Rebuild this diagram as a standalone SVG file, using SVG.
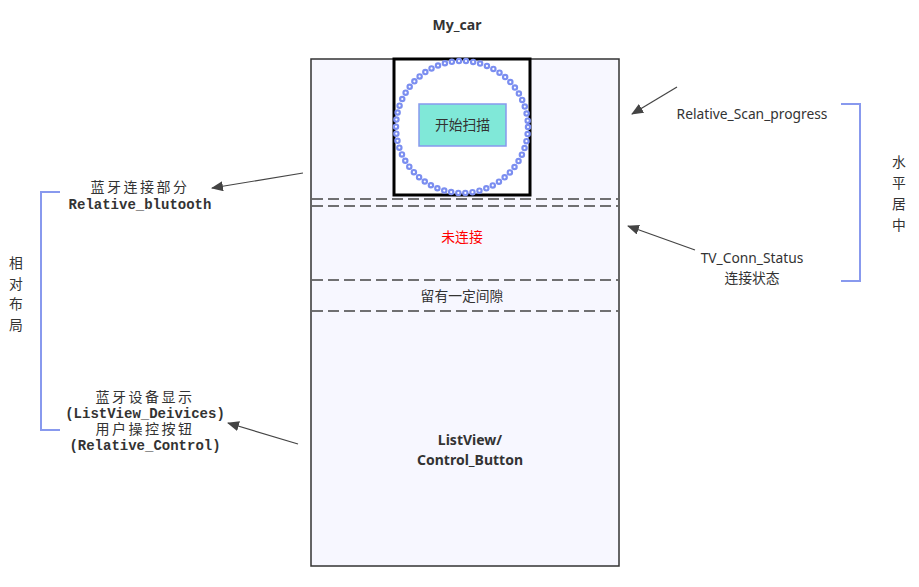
<svg xmlns="http://www.w3.org/2000/svg" width="919" height="587" viewBox="0 0 919 587">
<style>
.t{font-family:"Noto Sans","Open Sans","Noto Sans CJK SC",sans-serif;font-size:13.8px;fill:#333;text-anchor:middle}
.b{font-weight:bold;font-size:14px}
.m{font-family:"Liberation Mono","Noto Sans CJK SC",monospace;font-size:14px;font-weight:bold;fill:#333;text-anchor:middle}
.c{font-weight:normal;letter-spacing:2.5px}
.dash{stroke:#444;stroke-width:1.3;stroke-dasharray:11 5;fill:none}
.br{stroke:#8899ee;stroke-width:2;fill:none}
.ar{stroke:#444;stroke-width:1.2;fill:none;marker-end:url(#ah)}
</style>
<defs>
<marker id="ah" markerWidth="12" markerHeight="10" refX="11" refY="5" orient="auto" markerUnits="userSpaceOnUse">
<path d="M0,0 L12,5 L0,10 Z" fill="#444"/>
</marker>
</defs>
<rect width="919" height="587" fill="#fff"/>
<g id="title"><text class="t b" x="457" y="30">My_car</text></g>
<g id="car">
<rect x="311" y="59" width="308" height="507" fill="#f7f7ff" stroke="#333" stroke-width="1.5"/>
</g>
<g id="scan">
<rect x="394" y="59" width="136" height="136" fill="#fff" stroke="#000" stroke-width="3"/>
<circle cx="462" cy="127" r="66" fill="none" stroke="#7b8ef0" stroke-width="6.5" stroke-linecap="round" stroke-dasharray="0 7.15"/>
<circle cx="462" cy="127" r="66" fill="none" stroke="#fff" stroke-width="2.2" stroke-linecap="round" stroke-dasharray="0 7.15"/>
</g>
<g id="button">
<rect x="419" y="104" width="87" height="42" fill="#80e8d8" stroke="#8899ee" stroke-width="1.5"/>
<text class="t" x="462.5" y="130">开始扫描</text>
</g>
<g id="dividers">
<line class="dash" x1="312" y1="199" x2="618" y2="199"/>
<line class="dash" x1="312" y1="206" x2="618" y2="206"/>
<line class="dash" x1="312" y1="280" x2="618" y2="280"/>
<line class="dash" x1="312" y1="311" x2="618" y2="311"/>
</g>
<g id="status"><text class="t" x="462" y="242" style="fill:#ff0000">未连接</text></g>
<g id="gap"><text class="t" x="462" y="301">留有一定间隙</text></g>
<g id="list"><text class="t b" x="470" y="445">ListView/</text><text class="t b" x="470" y="465">Control_Button</text></g>
<g id="label-bt">
<text class="m c" x="140" y="192">蓝牙连接部分</text>
<text class="m" x="140" y="209">Relative_blutooth</text>
</g>
<g id="label-list">
<text class="m c" x="145" y="402">蓝牙设备显示</text>
<text class="m" x="145" y="418">(ListView_Deivices)</text>
<text class="m c" x="145" y="434">用户操控按钮</text>
<text class="m" x="145" y="450">(Relative_Control)</text>
</g>
<g id="left-bracket">
<path class="br" d="M60,192 H41 V430 H60"/>
<text class="t" x="16" y="268">相</text>
<text class="t" x="16" y="289">对</text>
<text class="t" x="16" y="309">布</text>
<text class="t" x="16" y="330">局</text>
</g>
<g id="right-bracket">
<path class="br" d="M841,104 H860 V281 H841"/>
<text class="t" x="899" y="167">水</text>
<text class="t" x="899" y="188">平</text>
<text class="t" x="899" y="209">居</text>
<text class="t" x="899" y="230">中</text>
</g>
<g id="label-scan"><text class="t" x="752" y="119">Relative_Scan_progress</text></g>
<g id="label-tv"><text class="t" x="752" y="263">TV_Conn_Status</text><text class="t" x="752" y="283">连接状态</text></g>
<g id="connectors">
<line class="ar" x1="303" y1="173" x2="212" y2="188"/>
<line class="ar" x1="298" y1="444" x2="228" y2="423"/>
<line class="ar" x1="677" y1="87" x2="632" y2="114"/>
<line class="ar" x1="695" y1="250" x2="628" y2="226"/>
</g>
</svg>
